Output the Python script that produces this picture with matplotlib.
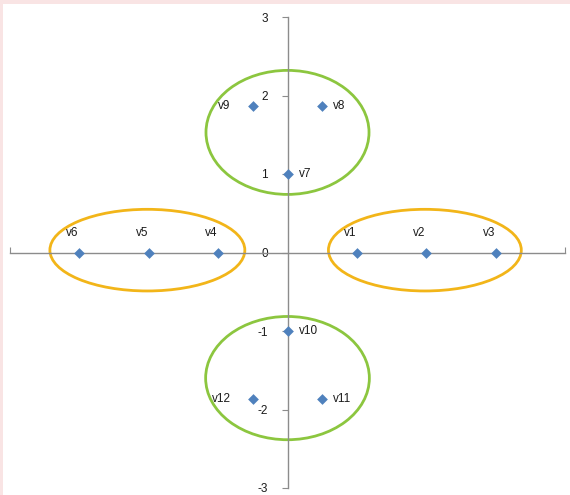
import numpy as np
import matplotlib.pyplot as plt
from matplotlib.patches import Ellipse, Rectangle

# points
labels = ['v1', 'v2', 'v3', 'v4', 'v5', 'v6', 'v7', 'v8', 'v9', 'v10', 'v11', 'v12']
xs = [1, 2, 3, -1, -2, -3, 0, 0.5, -0.5, 0, 0.5, -0.5]
ys = [0, 0, 0, 0, 0, 0, 1, 1.866, 1.866, -1, -1.866, -1.866]
label_pos = ['top', 'top', 'top', 'top', 'top', 'top',
             'right', 'right', 'left', 'right', 'right', 'left']

# group ellipses: centre x, centre y, width, height, colour
ell_cx = [0.0, 0.0, 1.98, -2.02]
ell_cy = [1.53, -1.6, 0.03, 0.03]
ell_w = [2.35, 2.36, 2.78, 2.81]
ell_h = [1.58, 1.57, 1.04, 1.04]
ell_col = ['#8cc63f', '#8cc63f', '#f2b519', '#f2b519']

yticks = [-3, -2, -1, 0, 1, 2, 3]

W, H = 570, 495
fig = plt.figure(figsize=(W / 100, H / 100), dpi=100, facecolor='#f9e4e4')
fig.patches.append(Rectangle((3 / W, 0), 1, (H - 4) / H, transform=fig.transFigure,
                             facecolor='white', edgecolor='none', zorder=-10))

ax = fig.add_axes([10 / W, 7 / H, 555 / W, 471 / H])
ax.set_facecolor('none')
ax.set_xlim(-4, 4)
ax.set_ylim(-3, 3)

for s in ['top', 'right']:
    ax.spines[s].set_visible(False)
ax.spines['left'].set_position(('data', 0))
ax.spines['bottom'].set_position(('data', 0))
for s in ['left', 'bottom']:
    ax.spines[s].set_color('#8c8c8c')
    ax.spines[s].set_linewidth(1.0)

ax.set_yticks(yticks)
ax.set_yticklabels([str(t) for t in yticks])
ax.tick_params(axis='y', direction='out', length=4, color='#8c8c8c',
               labelsize=8.5, labelcolor='#1a1a1a', pad=10)
ax.set_xticks([-4, 4])
ax.set_xticklabels([])
ax.tick_params(axis='x', direction='in', length=4, color='#8c8c8c')
for lab in ax.get_yticklabels():
    lab.set_fontfamily('Liberation Sans')

for cx, cy, w, h, c in zip(ell_cx, ell_cy, ell_w, ell_h, ell_col):
    ax.add_patch(Ellipse((cx, cy), w, h, fill=False, edgecolor=c, linewidth=2.0, zorder=2))

ax.scatter(xs, ys, marker='D', s=30, color='#4f81bd', zorder=3, linewidths=0)

for x, y, t, p in zip(xs, ys, labels, label_pos):
    if p == 'top':
        ax.annotate(t, (x, y), xytext=(-5, 10), textcoords='offset points',
                    ha='center', va='bottom', fontsize=8.5, color='#1a1a1a',
                    family='Liberation Sans')
    elif p == 'right':
        ax.annotate(t, (x, y), xytext=(8, 0), textcoords='offset points',
                    ha='left', va='center', fontsize=8.5, color='#1a1a1a',
                    family='Liberation Sans')
    else:
        ax.annotate(t, (x, y), xytext=(-16, 0), textcoords='offset points',
                    ha='right', va='center', fontsize=8.5, color='#1a1a1a',
                    family='Liberation Sans')

fig.savefig('out.png', dpi=100, facecolor=fig.get_facecolor())
